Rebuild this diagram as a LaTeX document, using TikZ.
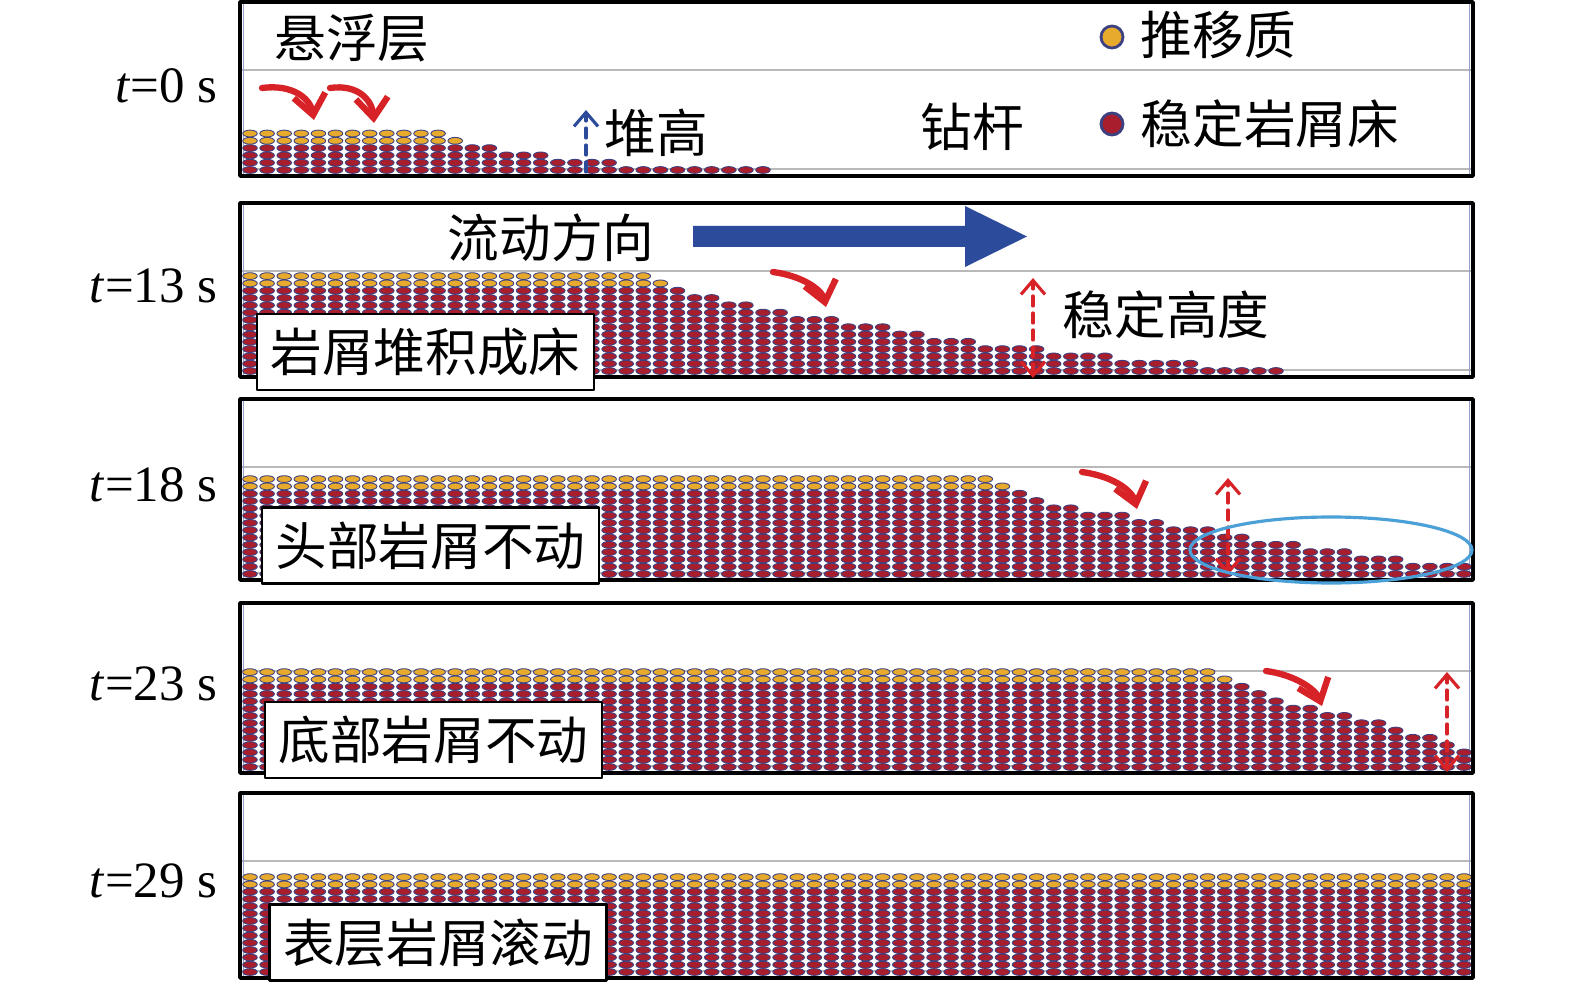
\documentclass[tikz,border=0pt]{standalone}
\usepackage{fontspec}
\setmainfont{Liberation Serif}
\newfontfamily\cjk{Noto Sans CJK SC}
\usetikzlibrary{arrows.meta}
\definecolor{bedred}{RGB}{168,30,45}
\definecolor{sandyel}{RGB}{231,170,45}
\definecolor{rim}{RGB}{60,65,130}
\definecolor{flowblue}{RGB}{45,75,155}
\definecolor{markred}{RGB}{215,35,40}
\definecolor{ringblue}{RGB}{75,160,215}
\definecolor{sideblue}{RGB}{150,160,205}
\begin{document}
\begin{tikzpicture}[x=0.1mm, y=-0.1mm, line join=round, line cap=round,
	lab/.style={font=\cjk\fontsize{14.7}{16}\selectfont, inner sep=0pt},
	tlab/.style={font=\fontsize{14.5}{16}\selectfont, anchor=east, inner sep=0pt},
	tagbox/.style={lab, draw, line width=0.7pt, fill=white, minimum width=33.7mm, minimum height=7.6mm},
	wall/.style={line width=1pt},
	pipe/.style={gray!55, line width=0.5pt},
	side/.style={sideblue, line width=0.4pt},
	grain/.style={draw=rim, line width=0.25pt},
	fall/.style={markred, line width=1.8pt, -{Straight Barb[length=2mm,width=3.2mm]}},
	gauge/.style={markred, line width=0.9pt, dash pattern=on 1mm off 0.7mm, {Straight Barb[length=1.4mm,width=2.4mm]}-{Straight Barb[length=1.4mm,width=2.4mm]}},
	ring/.style={ringblue, line width=0.9pt}]
	\useasboundingbox (0,0) rectangle (1575,984);
	\def\dx{17.1}
	\def\dy{7.3}
	\def\bed#1#2{\foreach \ia/\ib/\n/\k in {#2}{
		\pgfmathtruncatemacro\m{\n-\k}
		\pgfmathtruncatemacro\mm{\m+1}
		\foreach \i in {\ia,...,\ib}{
			\foreach \r in {1,...,\m}
				\filldraw[grain, fill=bedred] ({250+\dx*\i},{#1-4-\dy*(\r-1)}) ellipse (0.73mm and 0.34mm);
			\ifnum\k>0
			\foreach \r in {\mm,...,\n}
				\filldraw[grain, fill=sandyel] ({250+\dx*\i},{#1-4-\dy*(\r-1)}) ellipse (0.73mm and 0.34mm);
			\fi
		}}}
	\foreach \top/\bot in {2/176, 203/377, 399/580, 603/773, 793/978}{
		\draw[pipe] (240,\top+68)--(1473,\top+68) (240,\bot-7)--(1473,\bot-7);
		\draw[side] (243.5,\top)--(243.5,\bot) (1469.5,\top)--(1469.5,\bot);
	}
	\bed{174}{0/11/6/2, 12/12/5/1, 13/14/4/0, 15/17/3/0, 18/21/2/0, 22/30/1/0}
	\bed{375}{0/23/14/2, 24/24/13/1, 25/25/12/0, 26/27/11/0, 28/29/10/0, 30/31/9/0, 32/34/8/0, 35/37/7/0, 38/39/6/0, 40/42/5/0, 43/46/4/0, 47/50/3/0, 51/55/2/0, 56/60/1/0}
	\bed{578}{0/43/14/2, 44/44/13/1, 45/45/12/0, 46/46/11/0, 47/48/10/0, 49/51/9/0, 52/53/8/0, 54/56/7/0, 57/58/6/0, 59/61/5/0, 62/64/4/0, 65/67/3/0, 68/71/2/0}
	\bed{771}{0/56/14/2, 57/57/13/1, 58/58/12/0, 59/59/11/0, 60/60/10/0, 61/62/9/0, 63/64/8/0, 65/66/7/0, 67/67/6/0, 68/69/5/0, 70/70/4/0, 71/71/3/0}
	\bed{976}{0/71/14/2}
	\foreach \top/\bot in {2/176, 203/377, 399/580, 603/773, 793/978}
		\draw[wall] (240,\top) rectangle (1473,\bot);
	\coordinate (dropAs) at (262,88);
	\coordinate (dropAe) at (314,120);
	\coordinate (dropBs) at (330,88);
	\coordinate (dropBe) at (374,123);
	\coordinate (dropCs) at (773,272);
	\coordinate (dropCe) at (826,307);
	\coordinate (dropDs) at (1082,472);
	\coordinate (dropDe) at (1137,509);
	\coordinate (dropEs) at (1266,671);
	\coordinate (dropEe) at (1322,706);
	\draw[fall] (dropAs) .. controls (292,84) and (310,98) .. (dropAe);
	\draw[fall] (dropBs) .. controls (358,84) and (372,100) .. (dropBe);
	\draw[fall] (dropCs) .. controls (803,276) and (822,290) .. (dropCe);
	\draw[fall] (dropDs) .. controls (1112,476) and (1132,490) .. (dropDe);
	\draw[fall] (dropEs) .. controls (1296,675) and (1316,690) .. (dropEe);
	\coordinate (pileB) at (586,172);
	\coordinate (pileT) at (586,110);
	\draw[flowblue, line width=0.9pt, dash pattern=on 1mm off 0.7mm, -{Straight Barb[length=1.4mm,width=2.4mm]}] (pileB)--(pileT);
	\coordinate (gaugeBt) at (1033,278);
	\coordinate (gaugeBb) at (1033,378);
	\coordinate (gaugeCt) at (1228,478);
	\coordinate (gaugeCb) at (1228,575);
	\coordinate (gaugeDt) at (1447,672);
	\coordinate (gaugeDb) at (1447,772);
	\draw[gauge] (gaugeBb)--(gaugeBt);
	\draw[gauge] (gaugeCb)--(gaugeCt);
	\draw[gauge] (gaugeDb)--(gaugeDt);
	\draw[ring] (1331,550) ellipse (14.1mm and 3.3mm);
	\fill[flowblue] (693,226)--(965,226)--(965,206)--(1027,236.5)--(965,267)--(965,247)--(693,247)--cycle;
	\filldraw[rim, fill=sandyel, line width=0.8pt] (1112,37) circle (1.1mm);
	\filldraw[rim, fill=bedred, line width=0.8pt] (1112,124) circle (1.1mm);
	\node[lab] (susp) at (352,38) {悬浮层};
	\node[lab, anchor=west] (keyA) at (1140,35) {推移质};
	\node[lab] (drill) at (972,127) {钻杆};
	\node[lab, anchor=west] (keyB) at (1140,124) {稳定岩屑床};
	\node[lab, anchor=west] (pile) at (604,133) {堆高};
	\node[lab] (flow) at (551,238) {流动方向};
	\node[lab, anchor=west] (stab) at (1062,315) {稳定高度};
	\node[tagbox] (tagB) at (425.5,352) {岩屑堆积成床};
	\node[tagbox] (tagC) at (430.5,545.5) {头部岩屑不动};
	\node[tagbox] (tagD) at (433.5,740) {底部岩屑不动};
	\node[tagbox] (tagE) at (438,942.5) {表层岩屑滚动};
	\node[tlab] (tA) at (218,86) {\textit{t}=0 s};
	\node[tlab] (tB) at (218,286) {\textit{t}=13 s};
	\node[tlab] (tC) at (218,485) {\textit{t}=18 s};
	\node[tlab] (tD) at (218,684) {\textit{t}=23 s};
	\node[tlab] (tE) at (218,881) {\textit{t}=29 s};
\end{tikzpicture}
\end{document}
